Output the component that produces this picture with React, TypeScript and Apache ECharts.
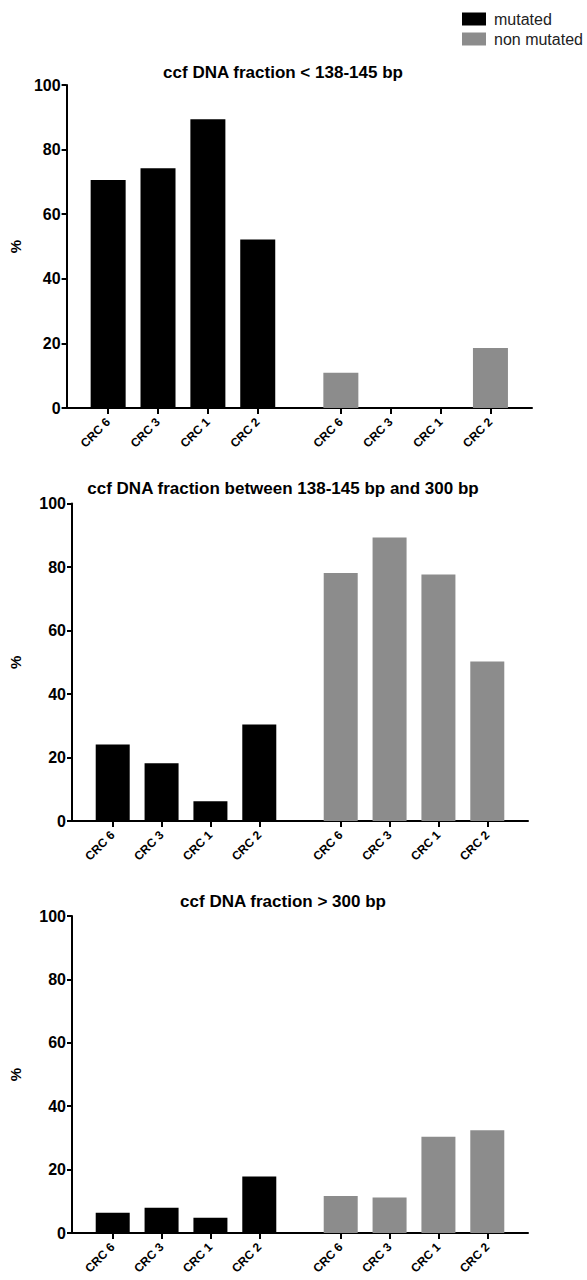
import React, { useEffect, useRef } from "react";
import * as echarts from "echarts";

const samples = ["CRC 6", "CRC 3", "CRC 1", "CRC 2"];
const titles = [
  "ccf DNA fraction < 138-145 bp",
  "ccf DNA fraction between 138-145 bp and 300 bp",
  "ccf DNA fraction > 300 bp",
];
const mutatedShort = [70.6, 74.2, 89.4, 52.2];
const nonMutatedShort = [10.9, 0, 0, 18.6];
const mutatedMid = [24.1, 18.2, 6.2, 30.4];
const nonMutatedMid = [78.1, 89.3, 77.6, 50.2];
const mutatedLong = [6.4, 8.0, 4.8, 17.8];
const nonMutatedLong = [11.7, 11.2, 30.4, 32.4];
const yTicks = [0, 20, 40, 60, 80, 100];

const SLOTS = 57;
const mutSlots = [5, 11, 17, 23];
const nonSlots = [33, 39, 45, 51];

export default function App() {
  const ref = useRef<HTMLDivElement>(null);
  useEffect(() => {
    if (!ref.current) return;
    const chart = echarts.init(ref.current, null, { renderer: "svg" });
    const panels = [
      { mut: mutatedShort, non: nonMutatedShort, left: 60, right: 55, top: 85, height: 323, bw: 35, nameGap: 42, titleTop: 59 },
      { mut: mutatedMid, non: nonMutatedMid, left: 69, right: 59, top: 503.5, height: 317.5, bw: 34, nameGap: 49, titleTop: 475 },
      { mut: mutatedLong, non: nonMutatedLong, left: 69, right: 59, top: 916, height: 317, bw: 34, nameGap: 49, titleTop: 888 },
    ];
    const cats: string[] = [];
    for (let i = 0; i < SLOTS; i++) {
      const m = mutSlots.indexOf(i);
      const n = nonSlots.indexOf(i);
      cats.push(m >= 0 ? samples[m] : n >= 0 ? samples[n] : "");
    }
    const isSlot = (i: number) => mutSlots.includes(i) || nonSlots.includes(i);
    const fill = (vals: number[], slots: number[]) => {
      const arr: any[] = new Array(SLOTS).fill("-");
      slots.forEach((s, k) => (arr[s] = vals[k]));
      return arr;
    };
    const font = "Liberation Sans";
    const grid: any[] = [];
    const xAxis: any[] = [];
    const yAxis: any[] = [];
    const series: any[] = [];
    const title: any[] = [];
    panels.forEach((p, gi) => {
      grid.push({ left: p.left, right: p.right, top: p.top, height: p.height, containLabel: false });
      title.push({
        text: titles[gi],
        left: 278,
        top: p.titleTop,
        textAlign: "center",
        textStyle: { fontFamily: font, fontWeight: "bold", fontSize: 17, color: "#000" },
      });
      xAxis.push({
        type: "category",
        gridIndex: gi,
        data: cats,
        boundaryGap: false,
        axisLine: { lineStyle: { color: "#000", width: 2 } },
        axisTick: { show: true, interval: (i: number) => isSlot(i), length: 6, lineStyle: { color: "#000", width: 2 } },
        axisLabel: {
          interval: (i: number) => isSlot(i),
          rotate: 45,
          margin: 12,
          fontFamily: font,
          fontWeight: "bold",
          fontSize: 12,
          color: "#000",
        },
        splitLine: { show: false },
      });
      yAxis.push({
        type: "value",
        gridIndex: gi,
        min: 0,
        max: 100,
        interval: 20,
        name: "%",
        nameLocation: "middle",
        nameGap: p.nameGap,
        nameRotate: 90,
        nameTextStyle: { fontFamily: font, fontWeight: "bold", fontSize: 15, color: "#000" },
        axisLine: { show: true, lineStyle: { color: "#000", width: 2 } },
        axisTick: { show: true, length: 5, lineStyle: { color: "#000", width: 2 } },
        axisLabel: {
          margin: 6,
          fontFamily: font,
          fontWeight: "bold",
          fontSize: 16,
          color: "#000",
          formatter: (v: number) => (yTicks.includes(v) ? String(v) : ""),
        },
        splitLine: { show: false },
      });
      series.push({
        name: "mutated",
        type: "bar",
        xAxisIndex: gi,
        yAxisIndex: gi,
        data: fill(p.mut, mutSlots),
        barWidth: p.bw,
        barGap: "-100%",
        itemStyle: { color: "#000000" },
      });
      series.push({
        name: "non mutated",
        type: "bar",
        xAxisIndex: gi,
        yAxisIndex: gi,
        data: fill(p.non, nonSlots),
        barWidth: p.bw,
        barGap: "-100%",
        itemStyle: { color: "#8c8c8c" },
      });
    });
    chart.setOption({
      animation: false,
      backgroundColor: "#ffffff",
      title,
      legend: {
        data: ["mutated", "non mutated"],
        orient: "vertical",
        left: 462,
        top: 11,
        itemWidth: 24,
        itemHeight: 13,
        itemGap: 4,
        icon: "rect",
        padding: 0,
        textStyle: { fontFamily: font, fontSize: 16, color: "#222", padding: [0, 0, 0, 3] },
      },
      grid,
      xAxis,
      yAxis,
      series,
    });
    return () => chart.dispose();
  }, []);
  return (
    <div
      ref={ref}
      style={{ position: "fixed", left: 0, top: 0, width: 587, height: 1280, background: "#fff" }}
    />
  );
}
